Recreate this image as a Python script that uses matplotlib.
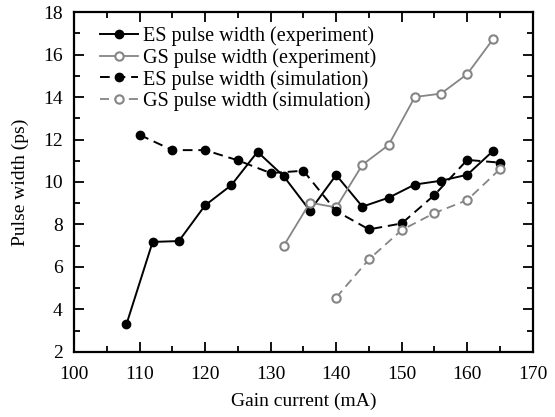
import matplotlib
matplotlib.use("Agg")
import matplotlib.pyplot as plt
from matplotlib.ticker import MultipleLocator

plt.rcParams['font.family'] = ['Liberation Serif', 'DejaVu Serif']

# measured data
es_exp_x = [108, 112, 116, 120, 124, 128, 132, 136, 140, 144, 148, 152, 156, 160, 164]
es_exp_y = [3.3, 7.18, 7.22, 8.9, 9.85, 11.42, 10.27, 8.65, 10.33, 8.84, 9.26, 9.88, 10.06, 10.34, 11.48]

gs_exp_x = [132, 136, 140, 144, 148, 152, 156, 160, 164]
gs_exp_y = [7.0, 9.03, 8.8, 10.81, 11.74, 14.0, 14.16, 15.08, 16.75]

# simulated data
es_sim_x = [110, 115, 120, 125, 130, 135, 140, 145, 150, 155, 160, 165]
es_sim_y = [12.22, 11.5, 11.5, 11.02, 10.42, 10.53, 8.63, 7.77, 8.05, 9.39, 11.04, 10.91]

gs_sim_x = [140, 145, 150, 155, 160, 165]
gs_sim_y = [4.56, 6.36, 7.74, 8.54, 9.15, 10.61]

gray = '#858585'

fig = plt.figure(figsize=(5.55, 4.17), dpi=100)
ax = fig.add_axes([0.1333, 0.1559, 0.8267, 0.8153])

ax.plot(es_exp_x, es_exp_y, '-', color='black', lw=1.4, marker='o', ms=6,
        mfc='black', mec='black', label='ES pulse width (experiment)')
ax.plot(gs_exp_x, gs_exp_y, '-', color=gray, lw=1.3, marker='o', ms=6,
        mfc='white', mec=gray, mew=1.5, label='GS pulse width (experiment)')
ax.plot(es_sim_x, es_sim_y, color='black', lw=1.4, dashes=(5, 3), marker='o', ms=6,
        mfc='black', mec='black', label='ES pulse width (simulation)')
ax.plot(gs_sim_x, gs_sim_y, color=gray, lw=1.3, dashes=(5, 3), marker='o', ms=6,
        mfc='white', mec=gray, mew=1.5, label='GS pulse width (simulation)')

ax.set_xlim(100, 170)
ax.set_ylim(2, 18)
ax.xaxis.set_major_locator(MultipleLocator(10))
ax.xaxis.set_minor_locator(MultipleLocator(5))
ax.yaxis.set_major_locator(MultipleLocator(2))
ax.yaxis.set_minor_locator(MultipleLocator(1))
ax.tick_params(which='both', direction='in', top=True, right=True, width=1.3, labelsize=14)
ax.tick_params(which='major', length=7)
ax.tick_params(which='minor', length=4)
ax.tick_params(axis='x', which='major', pad=10)
ax.tick_params(axis='y', which='major', pad=8)
for s in ax.spines.values():
    s.set_linewidth(1.6)

ax.set_xlabel('Gain current (mA)', fontsize=14, labelpad=7)
ax.set_ylabel('Pulse width (ps)', fontsize=14, labelpad=10)

ax.legend(loc='upper left', frameon=False, fontsize=14.5, handlelength=1.9,
          handletextpad=0.25, labelspacing=0.1, borderpad=0, borderaxespad=0,
          bbox_to_anchor=(0.057, 0.958))

fig.savefig('out.png', dpi=100)
